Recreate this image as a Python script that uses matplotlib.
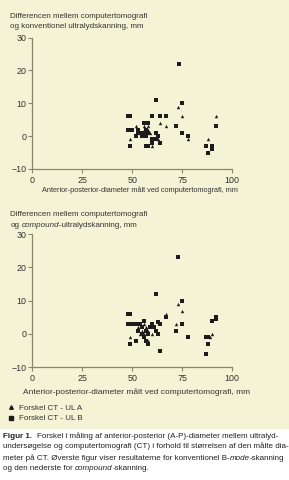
import matplotlib
matplotlib.use('Agg')
import matplotlib.pyplot as plt
from matplotlib.patches import Rectangle

# ---------------- data ----------------
x_ticks = [0, 25, 50, 75, 100]
y_ticks = [-10, 0, 10, 20, 30]

# Top panel: conventional ultrasound
top_A_x = [73, 75, 92, 64, 67, 52, 49, 60, 88, 56, 58, 55, 56, 57, 56, 58, 54, 59, 63, 78]
top_A_y = [9, 6, 6, 4, 3, 3, -1, -3, -1, 3, 3, 1, 2, 1, 0.5, 2, 1, 1, -1, -1]
top_B_x = [62, 75, 73.5, 48, 49, 60, 64, 67, 92, 72, 56, 58, 48, 50, 75, 78, 62, 63, 62, 64,
           60, 60, 49, 57, 58, 87, 88, 90, 90, 52, 53, 53, 55, 56, 57, 55, 58, 57]
top_B_y = [11, 10, 22, 6, 6, 6, 6, 6, 3, 3, 4, 4, 2, 2, 1, 0, 1, 0, -1, -2,
           -1, -2, -3, -3, -3, -3, -5, -3, -4, 0, 1, 2, 0, 1, 0, 1, 1, 2]

# Bottom panel: compound ultrasound
bot_A_x = [73, 75, 67, 72, 90, 89, 49, 58, 55, 56, 57, 54, 58, 60, 53, 56]
bot_A_y = [9, 7, 6, 3, 0, -1, -1, -2, 1, 3, 2, 0, 1, 0, 2, 0]
bot_B_x = [73, 62, 75, 48, 49, 67, 48, 50, 52, 63, 64, 72, 75, 78, 87, 88, 88, 87, 90, 92,
           92, 49, 52, 58, 64, 61, 62, 63, 55, 56, 57, 55, 54, 56, 58, 59, 60, 53, 57]
bot_B_y = [23, 12, 10, 6, 6, 5, 3, 3, 3, 3.5, 3, 1, 3, -1, -1, -1, -3, -6, 4, 4.5,
           5, -3, -2, -3, -5, 2, 1, 0, 0, -1, 1, 2, 3, 4, 0, 2, 3, 1, -2]

# ---------------- figure ----------------
W, H = 289, 480
fig = plt.figure(figsize=(W / 100, H / 100), dpi=100)
fig.patch.set_facecolor('white')
CREAM = '#f5f3d5'
AXC = '#8a8470'
TXT = '#333333'
MK = '#1c1c1c'
FONT = 'Liberation Sans'

fig.add_artist(Rectangle((0, (H - 429) / H), 1, 429 / H, transform=fig.transFigure,
                         facecolor=CREAM, edgecolor='none', zorder=0))


def px_axes(left, top, right, bottom):
    return fig.add_axes([left / W, 1 - bottom / H, (right - left) / W, (bottom - top) / H])


renderer = fig.canvas.get_renderer()


def text_w(s, size, **kw):
    t = fig.text(0, 0, s, fontsize=size, family=FONT, **kw)
    w = t.get_window_extent(renderer=renderer).width
    t.remove()
    return w


def rich(x, y, parts, size, color=TXT):
    sp = text_w('x x', size) - text_w('xx', size)
    cx = x
    for txt, st in parts:
        lead = len(txt) - len(txt.lstrip(' '))
        trail = len(txt) - len(txt.rstrip(' '))
        cx += lead * sp
        core = txt.strip(' ')
        if core:
            t = fig.text(cx / W, 1 - y / H, core, fontsize=size, family=FONT, color=color,
                         ha='left', va='baseline', **st)
            cx += t.get_window_extent(renderer=renderer).width
        cx += trail * sp


def setup(ax):
    ax.set_facecolor('none')
    ax.set_xlim(0, 100)
    ax.set_ylim(-10, 30)
    for s in ('top', 'right'):
        ax.spines[s].set_visible(False)
    for s in ('left', 'bottom'):
        ax.spines[s].set_color(AXC)
        ax.spines[s].set_linewidth(0.9)
    ax.set_xticks(x_ticks)
    ax.set_yticks(y_ticks)
    ax.set_yticklabels(['\u221210' if v < 0 else str(v) for v in y_ticks])
    ax.tick_params(axis='both', direction='out', length=2.6, width=0.8, color=AXC,
                   labelsize=6.4, labelcolor=TXT)
    ax.tick_params(axis='y', pad=1.6)
    ax.tick_params(axis='x', pad=2.2)
    for lab in ax.get_xticklabels() + ax.get_yticklabels():
        lab.set_family(FONT)


ax1 = px_axes(32.3, 37.5, 232.3, 169)
setup(ax1)
ax1.scatter(top_A_x, top_A_y, marker='^', s=6, color=MK, linewidths=0, zorder=3, clip_on=False)
ax1.scatter(top_B_x, top_B_y, marker='s', s=5, color=MK, linewidths=0, zorder=3, clip_on=False)

ax2 = px_axes(32.3, 234, 232.3, 367.3)
setup(ax2)
ax2.scatter(bot_A_x, bot_A_y, marker='^', s=6, color=MK, linewidths=0, zorder=3, clip_on=False)
ax2.scatter(bot_B_x, bot_B_y, marker='s', s=5, color=MK, linewidths=0, zorder=3, clip_on=False)

# titles
TS = 5.75
rich(10.5, 17.5, [('Differencen mellem computertomografi', {})], TS)
rich(10.5, 28.5, [('og konventionel ultralydskanning, mm', {})], TS)
rich(10.5, 216.0, [('Differencen mellem computertomografi', {})], TS)
rich(10.5, 227.0, [('og ', {}), ('compound', {'style': 'italic'}), ('-ultralydskanning, mm', {})], TS)

# x labels
fig.text(139.5 / W, 1 - 191.5 / H, 'Anterior-posterior-diameter målt ved computertomografi, mm',
         fontsize=5.35, family=FONT, color=TXT, ha='center', va='baseline')
fig.text(136.5 / W, 1 - 394.5 / H, 'Anterior-posterior-diameter målt ved computertomografi, mm',
         fontsize=6.05, family=FONT, color=TXT, ha='center', va='baseline')

# legend
fig.add_artist(plt.Line2D([11 / W], [1 - 407 / H], marker='^', markersize=2.6, color=MK,
                          linestyle='none', transform=fig.transFigure))
fig.add_artist(plt.Line2D([11 / W], [1 - 418 / H], marker='s', markersize=2.2, color=MK,
                          linestyle='none', transform=fig.transFigure))
rich(19, 409.5, [('Forskel CT - UL A', {})], 5.8)
rich(19, 420.5, [('Forskel CT - UL B', {})], 5.8)

# caption
CS = 5.75
CC = '#222222'
rich(3, 437.5, [('Figur 1.', {'weight': 'bold'}),
                ('  Forskel i måling af anterior-posterior (A-P)-diameter mellem ultralyd-', {})], CS, color=CC)
rich(3, 448.5, [('undersøgelse og computertomografi (CT) i forhold til størrelsen af den målte dia-', {})], CS, color=CC)
rich(3, 459.5, [('meter på CT. Øverste figur viser resultaterne for konventionel B-', {}),
                ('mode', {'style': 'italic'}), ('-skanning', {})], CS, color=CC)
rich(3, 470.5, [('og den nederste for ', {}), ('compound', {'style': 'italic'}), ('-skanning.', {})], CS, color=CC)

fig.savefig('out.png', dpi=100, facecolor=fig.get_facecolor())
